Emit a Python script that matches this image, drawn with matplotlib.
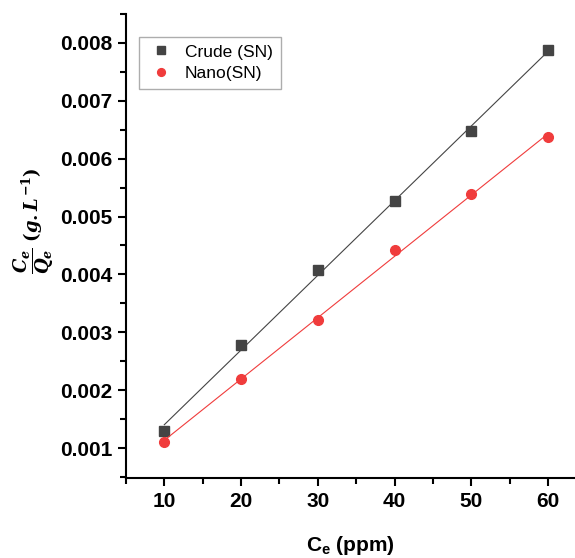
import numpy as np
import matplotlib
matplotlib.use('Agg')
import matplotlib.pyplot as plt
from matplotlib.ticker import MultipleLocator

plt.rcParams['font.family'] = ['Liberation Sans', 'DejaVu Sans']
plt.rcParams['font.weight'] = 'bold'
plt.rcParams['mathtext.fontset'] = 'custom'
plt.rcParams['mathtext.it'] = 'DejaVu Serif:italic:bold'
plt.rcParams['mathtext.rm'] = 'DejaVu Serif:bold'

# data
ce = [10, 20, 30, 40, 50, 60]
crude = [0.00130, 0.00278, 0.00408, 0.00527, 0.00647, 0.00788]
nano = [0.00111, 0.00220, 0.00321, 0.00442, 0.00539, 0.00637]

fig = plt.figure(figsize=(5.75, 5.58), dpi=100)
ax = fig.add_axes([0.219, 0.143, 0.781, 0.832])

x = np.array(ce)
for y, col, mk, lab in [(crude, '#444444', 's', 'Crude (SN)'),
                        (nano, '#f03c3c', 'o', 'Nano(SN)')]:
    k, b = np.polyfit(x, y, 1)
    ax.plot(x, k * x + b, color=col, lw=0.8)
    ax.plot(x, y, ls='none', marker=mk, color=col, ms=7, label=lab)

ax.set_xlim(5, 63.5)
ax.set_ylim(0.00048, 0.0085)
ax.xaxis.set_major_locator(MultipleLocator(10))
ax.xaxis.set_minor_locator(MultipleLocator(5))
ax.yaxis.set_major_locator(MultipleLocator(0.001))
ax.yaxis.set_minor_locator(MultipleLocator(0.0005))
ax.yaxis.set_major_formatter(plt.FuncFormatter(lambda v, p: f'{v:.3f}'))

for s in ['top', 'right']:
    ax.spines[s].set_visible(False)
for s in ['left', 'bottom']:
    ax.spines[s].set_linewidth(1.5)
ax.tick_params(which='major', length=6, width=1.5, labelsize=15, pad=4)
ax.tick_params(which='minor', length=4, width=1.5)
for t in ax.get_xticklabels() + ax.get_yticklabels():
    t.set_fontweight('bold')

ax.set_xlabel(r'C$_\mathregular{e}$ (ppm)', fontsize=15, fontweight='bold')
ax.xaxis.set_label_coords(0.5, -0.12)
ax.set_ylabel(r'$\dfrac{C_e}{Q_e}\ (g.L^{-1})$', fontsize=13)
ax.yaxis.set_label_coords(-0.155, 0.555)

leg = ax.legend(loc='upper left', bbox_to_anchor=(0.01, 0.97), fontsize=12.5,
                frameon=True, fancybox=False, edgecolor='#999999',
                handletextpad=0.6, borderpad=0.45, markerscale=0.8,
                labelspacing=0.35, handlelength=1.6)
for t in leg.get_texts():
    t.set_fontweight('normal')

fig.savefig('out.png', dpi=100)
